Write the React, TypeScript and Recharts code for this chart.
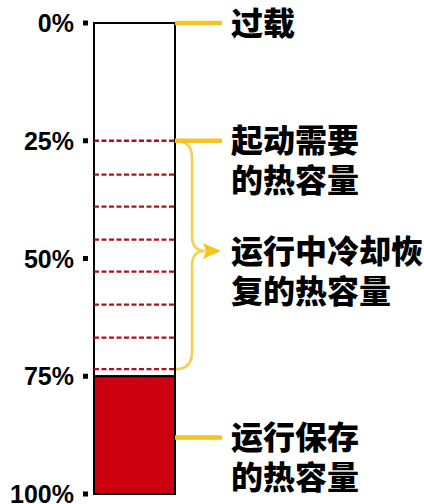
import React from 'react';
import { BarChart, Bar, XAxis, YAxis, ReferenceLine, ReferenceArea } from 'recharts';

// ---- data ----
const categories = ['热容量'];
const emptyPart = [75]; // 0% – 75%
const heldPart = [25]; // 75% – 100% 运行保存的热容量
const yTicks = [0, 25, 50, 75, 100];
const dashLevels = [25, 32.2, 39, 46, 52.8, 59.8, 66.8, 73.5];
const annotationLevels = [0, 25, 88];
const annotationTexts = [['过载'], ['起动需要', '的热容量'], ['运行保存', '的热容量']];
const bracketRange = [25, 73.5];
const bracketTexts = ['运行中冷却恢', '复的热容量'];

const data = categories.map((name, i) => ({ name, empty: emptyPart[i], held: heldPart[i] }));

const YELLOW = '#F4C520';
const BRACKET = '#F3D050';
const RED = '#CC0010';
const DASH = '#AE101C';
const CJK = '"Noto Sans CJK SC", "Noto Sans", sans-serif';
const NUM = '"Liberation Sans", Arial, sans-serif';

const Tick = (props: any) => {
  const { x, y, payload } = props;
  return (
    <g>
      <text x={x - 20} y={y} dy="0.36em" textAnchor="end" fontFamily={NUM} fontWeight={700} fontSize={25} fill="#000">
        {`${payload.value}%`}
      </text>
      <rect x={x - 11} y={y - 2.5} width={5} height={5} fill="#000" />
    </g>
  );
};

const makeLeader = (lines: string[]) => (props: any) => {
  const x1 = Number(props.x1);
  const x2 = Number(props.x2);
  const y = Number(props.y1);
  const right = Math.max(x1, x2);
  return (
    <g>
      <line x1={right} y1={y} x2={right + 47} y2={y} stroke={YELLOW} strokeWidth={4.5} />
      {lines.map((t, i) => (
        <text key={i} x={right + 56} y={y + i * 40} dy="0.36em" fontFamily={CJK} fontWeight={900} fontSize={32} fill="#000">
          {t}
        </text>
      ))}
    </g>
  );
};

const BracketShape = (props: any) => {
  const x = Number(props.x);
  const y = Number(props.y);
  const w = Number(props.width);
  const h = Number(props.height);
  const R = x + w;
  const top = y;
  const bot = y + h;
  const mid = (top + bot) / 2 - 4;
  const vx = R + 17;
  const d =
    `M${R},${top} Q${vx},${top} ${vx},${top + 17} L${vx},${mid - 15} Q${vx},${mid} ${vx + 13},${mid} ` +
    `M${vx + 13},${mid} Q${vx},${mid} ${vx},${mid + 15} L${vx},${bot - 17} Q${vx},${bot} ${R},${bot}`;
  return (
    <g>
      <path d={d} fill="none" stroke={BRACKET} strokeWidth={2.6} />
      <polygon points={`${R + 46},${mid} ${R + 28},${mid - 8} ${R + 31},${mid} ${R + 28},${mid + 8}`} fill={YELLOW} />
      {bracketTexts.map((t, i) => (
        <text key={i} x={R + 56} y={mid + 1 + i * 40} dy="0.36em" fontFamily={CJK} fontWeight={900} fontSize={32} fill="#000">
          {t}
        </text>
      ))}
    </g>
  );
};

export default function App() {
  return (
    <div style={{ position: 'absolute', left: 0, top: 0, width: 424, height: 504, background: '#fff' }}>
      <BarChart width={424} height={504} data={data} margin={{ top: 23, right: 249, bottom: 10, left: 0 }} barCategoryGap={0}>
        <XAxis dataKey="name" hide />
        <YAxis
          type="number"
          domain={[0, 100]}
          reversed
          ticks={yTicks}
          interval={0}
          width={94}
          axisLine={false}
          tickLine={false}
          tickSize={0}
          tickMargin={0}
          tick={<Tick />}
        />
        <Bar dataKey="empty" stackId="a" fill="#fff" stroke="#000" strokeWidth={2} isAnimationActive={false} />
        <Bar dataKey="held" stackId="a" fill={RED} stroke="#000" strokeWidth={2} isAnimationActive={false} />
        {dashLevels.map((v) => (
          <ReferenceLine key={`d${v}`} y={v} stroke={DASH} strokeWidth={2.3} strokeDasharray="5 2.5" />
        ))}
        {annotationLevels.map((v, i) => (
          <ReferenceLine key={`a${v}`} y={v} stroke="none" shape={makeLeader(annotationTexts[i])} />
        ))}
        <ReferenceArea y1={bracketRange[0]} y2={bracketRange[1]} shape={<BracketShape />} />
      </BarChart>
    </div>
  );
}
